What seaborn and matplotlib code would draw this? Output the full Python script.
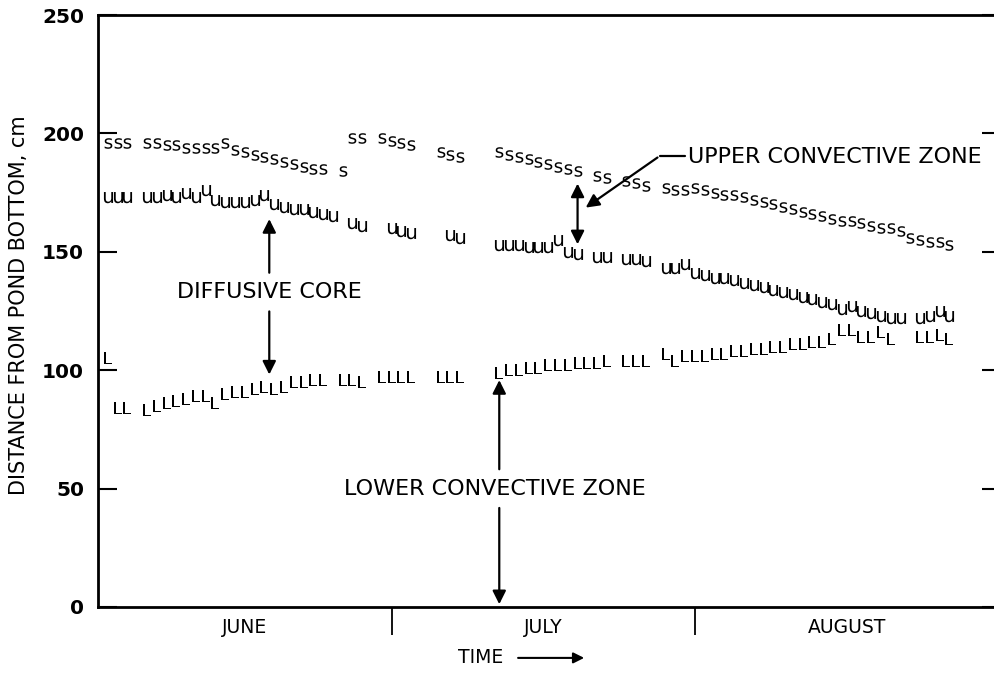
"""Solar pond zone boundaries over a summer, drawn with letter markers."""

import matplotlib

matplotlib.use("Agg")  # headless

import matplotlib.pyplot as plt
import pandas as pd
import seaborn as sns

# days counted from 1 June; heights in cm above the pond bottom
# "s" = bottom of the upper convective zone
S_DAYS = [1, 2, 3, 5, 6, 7, 8, 9, 10, 11, 12, 13, 14, 15, 16, 17, 18, 19, 20, 21, 22, 23,
          25, 26, 27, 29, 30, 31, 32, 35, 36, 37, 41, 42, 43, 44, 45, 46, 47, 48, 49,
          51, 52, 54, 55, 56, 58, 59, 60, 61, 62, 63, 64, 65, 66, 67, 68, 69, 70, 71, 72,
          73, 74, 75, 76, 77, 78, 79, 80, 81, 82, 83, 84, 85, 86, 87]
S_CM = [196, 196, 196, 196, 196, 195, 195, 194, 194, 194, 194, 196, 193, 192, 191, 190, 189,
        188, 187, 186, 185, 185,
        184, 198, 198, 198, 197, 196, 195, 192, 191, 190, 192, 191, 190, 189, 188, 187, 186,
        185, 184,
        182, 181, 180, 179, 178, 177, 176, 176, 177, 176, 175, 174, 174, 173, 172, 171, 170,
        169, 168, 167, 166, 165, 164, 163, 163, 162, 161, 160, 160, 159, 156, 155, 154, 154, 153]

# "u" = top of the diffusive (gradient) core
U_DAYS = [1, 2, 3, 5, 6, 7, 8, 9, 10, 11, 12, 13, 14, 15, 16, 17, 18, 19, 20, 21, 22, 23, 24,
          26, 27, 30, 31, 32, 36, 37, 41, 42, 43, 44, 45, 46, 47, 48, 49, 51, 52, 54, 55, 56,
          58, 59, 60, 61, 62, 63, 64, 65, 66, 67, 68, 69, 70, 71, 72, 73, 74, 75, 76, 77, 78,
          79, 80, 81, 82, 84, 85, 86, 87]
U_CM = [173, 173, 173, 173, 173, 174, 173, 175, 173, 176, 172, 171, 171, 171, 172, 174, 170,
        169, 168, 168, 167, 166, 165,
        162, 161, 160, 159, 158, 157, 156, 153, 153, 153, 152, 152, 152, 155, 150, 149,
        148, 148, 147, 147, 146,
        143, 143, 145, 141, 140, 139, 139, 138, 137, 136, 135, 134, 133, 132, 131, 130, 129,
        128, 126, 127, 125, 124, 123, 122, 122, 122, 123, 125, 123]

# "L" = top of the lower convective zone
L_DAYS = [1, 2, 3, 5, 6, 7, 8, 9, 10, 11, 12, 13, 14, 15, 16, 17, 18, 19, 20, 21, 22, 23,
          25, 26, 27, 29, 30, 31, 32, 35, 36, 37, 41, 42, 43, 44, 45, 46, 47, 48, 49, 50, 51,
          52, 54, 55, 56, 58, 59, 60, 61, 62, 63, 64, 65, 66, 67, 68, 69, 70, 71, 72, 73, 74,
          75, 76, 77, 78, 79, 80, 81, 84, 85, 86, 87]
L_CM = [105, 84, 84, 83, 85, 86, 87, 88, 89, 89, 86, 90, 91, 91, 92, 93, 92, 93, 95, 95, 96,
        96, 96, 96, 95, 97, 97, 97, 97, 97, 97, 97,
        99, 100, 100, 101, 101, 102, 102, 102, 103, 103, 103, 104, 104, 104, 104,
        107, 104, 106, 106, 106, 107, 107, 108, 108, 109, 109, 110, 110, 111, 111, 112, 112,
        113, 117, 117, 114, 114, 116, 113, 114, 114, 115, 113]

MONTHS = ["JUNE", "JULY", "AUGUST"]
MONTH_MID = [15, 45.5, 76.5]
MONTH_EDGES = [30, 61]
Y_TICKS = [0, 50, 100, 150, 200, 250]

sns.set_theme(style="white")
plt.rcParams["font.family"] = ["DejaVu Sans"]
plt.rcParams["text.color"] = "black"
plt.rcParams["axes.labelcolor"] = "black"
plt.rcParams["xtick.color"] = "black"
plt.rcParams["ytick.color"] = "black"

fig = plt.figure(figsize=(9.95, 6.77), dpi=100)
ax = fig.add_axes([0.0985, 0.1034, 0.9, 0.8744])

series = [
    (S_DAYS, S_CM, r"$\mathsf{s}$", 58),
    (U_DAYS, U_CM, r"$\mathsf{u}$", 68),
    (L_DAYS, L_CM, r"$\mathsf{L}$", 72),
]
for days, cm, mk, size in series:
    df = pd.DataFrame({"day": days, "cm": cm})
    sns.scatterplot(data=df, x="day", y="cm", marker=mk, s=size, color="black",
                    linewidth=0, ax=ax, legend=False)

ax.set_xlim(0, 91.5)
ax.set_ylim(0, 250)

# axes frame: no right spine, just short inward ticks there
for side in ["left", "top", "bottom"]:
    ax.spines[side].set_linewidth(2)
    ax.spines[side].set_color("black")
ax.spines["right"].set_visible(False)

ax.set_yticks(Y_TICKS)
ax.tick_params(axis="y", direction="in", length=14, width=1.5, left=True, right=True,
               labelsize=14.5, pad=10)
for t in ax.yaxis.get_major_ticks():
    t.tick2line.set_markersize(9)
for lbl in ax.get_yticklabels():
    lbl.set_fontweight("bold")

ax.set_xticks(MONTH_EDGES)
ax.set_xticklabels([])
ax.tick_params(axis="x", which="major", direction="out", length=20, width=1.3, bottom=True)
ax.set_xticks(MONTH_MID, minor=True)
ax.set_xticklabels(MONTHS, minor=True)
ax.tick_params(axis="x", which="minor", length=0, labelsize=13.5, pad=8)

ax.set_xlabel("")
ax.set_ylabel("DISTANCE FROM POND BOTTOM, cm", fontsize=15)
ax.yaxis.set_label_coords(-0.077, 0.51)

ax.text(0.427, -0.086, "TIME", transform=ax.transAxes, ha="center", va="center", fontsize=13.5)
ax.annotate("", xy=(0.546, -0.086), xytext=(0.466, -0.086), xycoords="axes fraction",
            arrowprops=dict(arrowstyle="-|>", color="black", lw=1.5, mutation_scale=16))

arrow = dict(arrowstyle="-|>", color="black", lw=1.6, mutation_scale=20)
dbl = dict(arrowstyle="<|-|>", color="black", lw=1.6, mutation_scale=20)

# diffusive core
ax.text(17.5, 133, "DIFFUSIVE CORE", ha="center", va="center", fontsize=16)
ax.annotate("", xy=(17.5, 165), xytext=(17.5, 140), arrowprops=arrow)
ax.annotate("", xy=(17.5, 97), xytext=(17.5, 126), arrowprops=arrow)

# lower convective zone
ax.text(40.5, 50, "LOWER CONVECTIVE ZONE", ha="center", va="center", fontsize=16)
ax.annotate("", xy=(41, 97), xytext=(41, 57), arrowprops=arrow)
ax.annotate("", xy=(41, 0), xytext=(41, 43), arrowprops=arrow)

# upper convective zone
ax.annotate("", xy=(49, 152), xytext=(49, 180), arrowprops=dbl)
ax.text(60.3, 190, "UPPER CONVECTIVE ZONE", ha="left", va="center", fontsize=16)
ax.plot([57.4, 60.0], [190.5, 190.5], color="black", lw=1.6)
ax.annotate("", xy=(49.6, 168), xytext=(57.4, 190.5), arrowprops=arrow)

fig.savefig("out.png", dpi=100, facecolor="white")
